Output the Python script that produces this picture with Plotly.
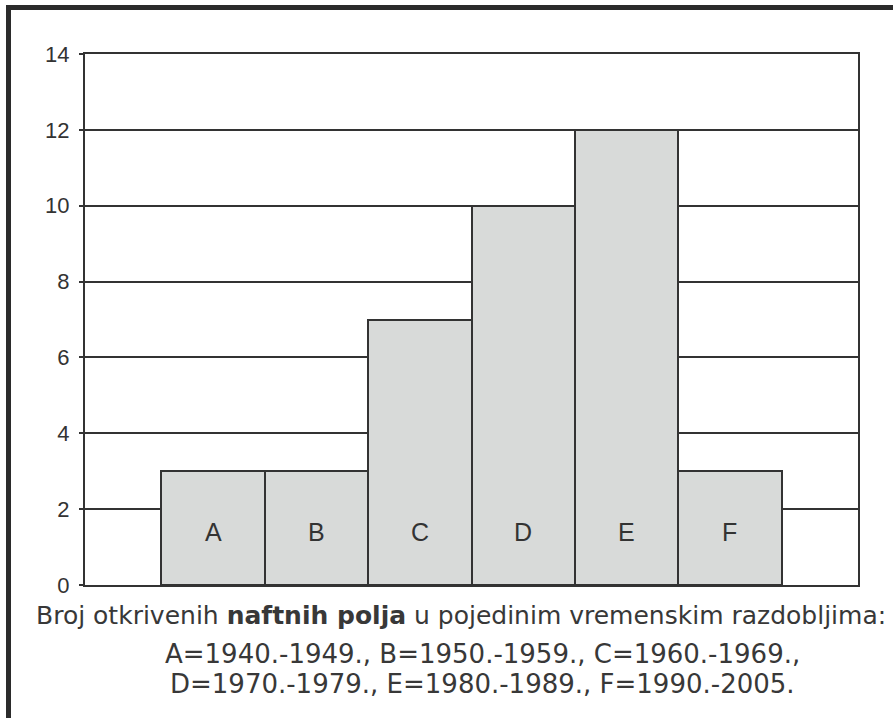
import plotly.graph_objects as go

categories = ["A", "B", "C", "D", "E", "F"]
values = [3, 3, 7, 10, 12, 3]
y_ticks = [0, 2, 4, 6, 8, 10, 12, 14]
caption_line1 = "Broj otkrivenih <b>naftnih polja</b> u pojedinim vremenskim razdobljima:"
caption_line2 = "A=1940.-1949., B=1950.-1959., C=1960.-1969.,"
caption_line3 = "D=1970.-1979., E=1980.-1989., F=1990.-2005."

INK = "#333333"
fig = go.Figure()
fig.add_trace(go.Bar(
    x=categories, y=values, width=1,
    marker=dict(color="#d8dad9", line=dict(color=INK, width=2)),
    hoverinfo="skip",
))

for c in categories:
    fig.add_annotation(x=c, y=1.4, xref="x", yref="y", text=c, showarrow=False,
                       font=dict(family="Liberation Sans, Arial", size=25, color=INK))

cap_font1 = dict(family="DejaVu Sans", size=25, color="#383838")
cap_font2 = dict(family="DejaVu Sans", size=26, color="#383838")
fig.add_annotation(x=0.4864, y=-0.0565, xref="paper", yref="paper", text=caption_line1,
                   showarrow=False, xanchor="center", yanchor="middle", font=cap_font1)
fig.add_annotation(x=0.5136, y=-0.130, xref="paper", yref="paper", text=caption_line2,
                   showarrow=False, xanchor="center", yanchor="middle", font=cap_font2)
fig.add_annotation(x=0.5136, y=-0.1864, xref="paper", yref="paper", text=caption_line3,
                   showarrow=False, xanchor="center", yanchor="middle", font=cap_font2)

# outer frame (top and left edges)
fig.add_shape(type="rect", xref="paper", yref="paper", xsizemode="pixel", ysizemode="pixel",
              xanchor=0, yanchor=1, x0=-79, x1=-74, y0=-720, y1=49,
              fillcolor="#2b2b2b", line=dict(width=0), layer="above")
fig.add_shape(type="rect", xref="paper", yref="paper", xsizemode="pixel", ysizemode="pixel",
              xanchor=0, yanchor=1, x0=-79, x1=900, y0=44, y1=49,
              fillcolor="#2b2b2b", line=dict(width=0), layer="above")

fig.update_layout(
    width=893, height=718,
    margin=dict(l=85, r=35, t=54, b=133),
    paper_bgcolor="white", plot_bgcolor="white",
    bargap=0, showlegend=False,
)
fig.update_xaxes(type="category", range=[-1.24, 6.24], showticklabels=False, ticks="",
                 showgrid=False, showline=True, linecolor=INK, linewidth=2, mirror=True)
fig.update_yaxes(range=[0, 14], tickvals=y_ticks, showgrid=True, gridcolor=INK, gridwidth=2,
                 zeroline=False, showline=True, linecolor=INK, linewidth=2, mirror=True,
                 ticks="outside", ticklen=4, tickwidth=2, tickcolor=INK, ticklabelstandoff=5,
                 tickfont=dict(family="Liberation Sans, Arial", size=22, color=INK))

fig.write_html("out.html")
